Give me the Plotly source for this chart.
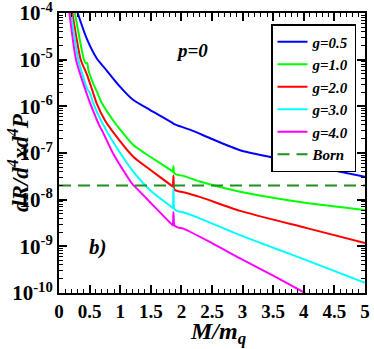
import plotly.graph_objects as go

# ---- data ----
m_blue = [0.305, 0.45, 0.62, 0.75, 0.97, 1.21, 1.49, 1.86, 1.88, 2.14, 2.5, 2.96, 3.5, 4.05, 5.0]
y_blue = [1e-4, 10**-4.54, 10**-4.98, 10**-5.185, 10**-5.54, 10**-5.86, 10**-6.08, 10**-6.36,
          10**-6.38, 10**-6.50, 10**-6.70, 10**-6.94, 10**-7.10, 10**-7.26, 10**-7.51]

m_green = [0.26, 0.408, 0.44, 0.46, 0.48, 0.55, 0.63, 0.70, 0.90, 1.0, 1.214, 1.49, 1.85, 1.86,
           1.87, 1.88, 1.89, 1.95, 2.03, 2.30, 2.96, 4.05, 5.0]
y_green = [1e-4, 1e-5, 10**-5.08, 10**-5.07, 10**-5.22, 10**-5.48, 10**-5.72, 10**-5.93, 10**-6.33,
           10**-6.5, 10**-6.83, 10**-7.08, 10**-7.39, 10**-7.40, 10**-7.28, 10**-7.43, 10**-7.44,
           10**-7.47, 10**-7.49, 10**-7.61, 10**-7.83, 10**-8.07, 10**-8.22]

m_red = [0.218, 0.355, 0.46, 0.56, 0.615, 0.75, 0.86, 1.214, 1.49, 1.85, 1.86, 1.87, 1.88, 1.89,
         1.95, 2.03, 2.30, 2.96, 4.05, 5.0]
y_red = [1e-4, 1e-5, 10**-5.33, 10**-5.72, 10**-5.935, 10**-6.30, 10**-6.51, 10**-7.08, 10**-7.36,
         10**-7.71, 10**-7.72, 10**-7.49, 10**-7.77, 10**-7.79, 10**-7.82, 10**-7.84, 10**-7.94,
         10**-8.24, 10**-8.61, 10**-8.93]

m_cyan = [0.196, 0.316, 0.46, 0.507, 0.56, 0.77, 1.0, 1.214, 1.49, 1.85, 1.86, 1.87, 1.88, 1.89,
          1.95, 2.03, 2.30, 2.96, 3.5, 4.05, 5.0]
y_cyan = [1e-4, 1e-5, 10**-5.62, 10**-5.72, 10**-5.935, 10**-6.51, 10**-7.0, 10**-7.4, 10**-7.8,
          10**-8.17, 10**-8.18, 10**-7.76, 10**-8.19, 10**-8.21, 10**-8.25, 10**-8.27, 10**-8.40,
          10**-8.76, 10**-9.03, 10**-9.30, 10**-9.78]

m_mag = [0.17, 0.278, 0.45, 0.51, 0.67, 0.70, 0.90, 1.19, 1.30, 1.5, 1.85, 1.86, 1.87, 1.88,
         1.89, 1.95, 2.03, 2.5, 2.96, 3.5, 4.02]
y_mag = [1e-4, 1e-5, 10**-5.72, 10**-5.935, 10**-6.44, 10**-6.51, 10**-7.05, 10**-7.65, 10**-7.8,
         10**-8.07, 10**-8.54, 10**-8.55, 10**-8.27, 10**-8.53, 10**-8.56, 10**-8.60, 10**-8.62,
         10**-8.93, 10**-9.26, 10**-9.63, 1e-10]

born_m = [0.0, 5.0]
born_y = [2e-8, 2e-8]

labels = ["g=0.5", "g=1.0", "g=2.0", "g=3.0", "g=4.0", "Born"]
colors = ["#0000ff", "#00ff00", "#ff0000", "#00ffff", "#ff00ff", "#1e901e"]

x_ticks = [0, 0.5, 1, 1.5, 2, 2.5, 3, 3.5, 4, 4.5, 5]
x_ticktext = ["0", "0.5", "1", "1.5", "2", "2.5", "3", "3.5", "4", "4.5", "5"]
y_ticks = [1e-10, 1e-9, 1e-8, 1e-7, 1e-6, 1e-5, 1e-4]
y_ticktext = ["<b>10<sup>-10</sup></b>", "<b>10<sup>-9</sup></b>", "<b>10<sup>-8</sup></b>",
              "<b>10<sup>-7</sup></b>", "<b>10<sup>-6</sup></b>", "<b>10<sup>-5</sup></b>",
              "<b>10<sup>-4</sup></b>"]

FONT = "Liberation Serif"

# plot-area geometry in pixels
L, R, T, B = 59, 365, 13, 293
W, H = R - L, B - T


def px(x):
    return (x - L) / W


def py(y):
    return (B - y) / H


fig = go.Figure()
series = [(m_blue, y_blue), (m_green, y_green), (m_red, y_red), (m_cyan, y_cyan), (m_mag, y_mag)]
for (mx, my), lab, col in zip(series, labels[:5], colors[:5]):
    fig.add_trace(go.Scatter(x=mx, y=my, mode="lines", name="<b><i>%s</i></b>" % lab,
                             line=dict(color=col, width=2, shape="spline", smoothing=0.6)))
fig.add_trace(go.Scatter(x=born_m, y=born_y, mode="lines", name="<b><i>%s</i></b>" % labels[5],
                         line=dict(color=colors[5], width=2, dash="12px,7px")))

fig.update_layout(
    width=374, height=349,
    margin=dict(l=L, r=374 - R, t=T, b=349 - B, autoexpand=False),
    paper_bgcolor="white", plot_bgcolor="white",
    font=dict(family=FONT, color="black"),
    showlegend=True,
    legend=dict(x=px(356), y=py(24), xanchor="right", yanchor="top",
                bordercolor="black", borderwidth=1.5, bgcolor="white",
                font=dict(family=FONT, size=15, color="black"),
                itemwidth=30, tracegroupgap=0),
    xaxis=dict(range=[0, 5], tickvals=x_ticks, ticktext=x_ticktext, automargin=False,
               ticks="inside", ticklen=8, tickwidth=1.5, tickcolor="black",
               minor=dict(ticks="inside", ticklen=4, dtick=0.1, tickwidth=1.2, tickcolor="black"),
               showline=True, linecolor="black", linewidth=2, mirror="ticks",
               showgrid=False, zeroline=False, ticklabeloverflow="allow",
               tickfont=dict(family=FONT, size=19, color="black", weight="bold")),
    yaxis=dict(type="log", range=[-10, -4], tickvals=y_ticks, ticktext=y_ticktext, automargin=False,
               ticks="inside", ticklen=8, tickwidth=1.5, tickcolor="black",
               minor=dict(ticks="inside", ticklen=4, dtick="D1", tickwidth=1.2, tickcolor="black"),
               showline=True, linecolor="black", linewidth=2, mirror="ticks",
               showgrid=False, zeroline=False, ticklabeloverflow="allow",
               tickfont=dict(family=FONT, size=21, color="black")),
    annotations=[
        dict(text="<b><i>p=0</i></b>", x=px(192), y=py(38), xref="paper", yref="paper",
             showarrow=False, font=dict(family=FONT, size=19, color="black")),
        dict(text="<b><i>b)</i></b>", x=px(87), y=py(261), xref="paper", yref="paper",
             showarrow=False, font=dict(family=FONT, size=21, color="black")),
        dict(text="<b><i>dR/d<sup>4</sup>xd<sup>4</sup>P</i></b>", x=px(18), y=py(163),
             xref="paper", yref="paper", xanchor="center", yanchor="middle",
             textangle=-90, showarrow=False,
             font=dict(family=FONT, size=23, color="black")),
        dict(text="<b><i>M/m<sub>q</sub></i></b>", x=px(218), y=py(333), xref="paper", yref="paper",
             xanchor="center", yanchor="middle", showarrow=False,
             font=dict(family=FONT, size=24, color="black")),
    ],
)

fig.write_html("out.html", config={"displayModeBar": False},
               post_script="document.body.style.margin='0';document.body.style.padding='0';")
